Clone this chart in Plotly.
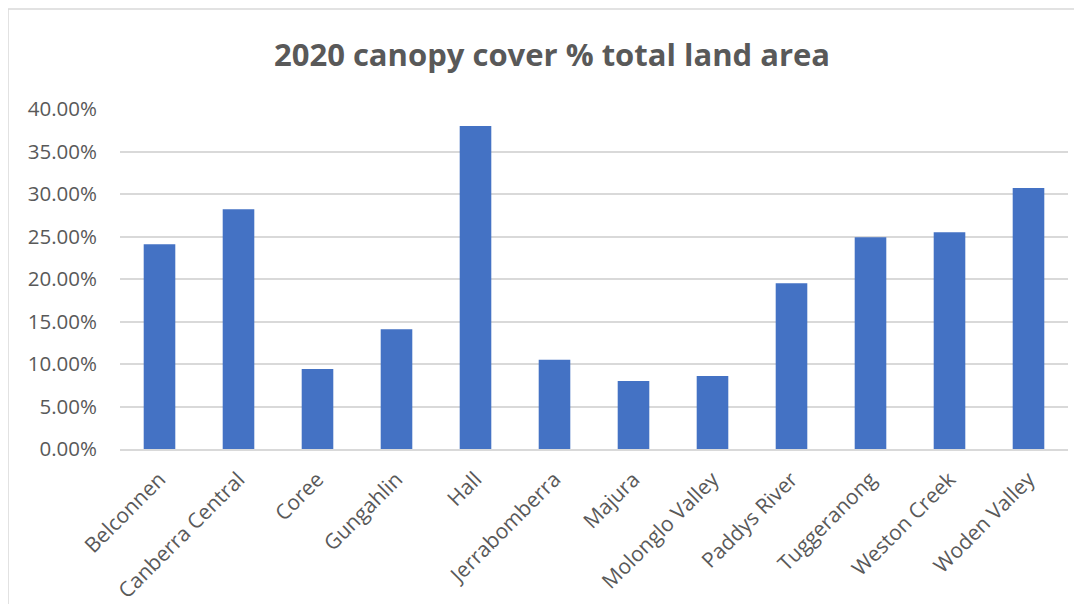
import plotly.graph_objects as go

categories = ["Belconnen", "Canberra Central", "Coree", "Gungahlin", "Hall",
              "Jerrabomberra", "Majura", "Molonglo Valley", "Paddys River",
              "Tuggeranong", "Weston Creek", "Woden Valley"]
canopy_pct = [0.241, 0.282, 0.094, 0.141, 0.380, 0.105, 0.080, 0.086, 0.195,
              0.249, 0.255, 0.307]
y_ticks = [0.0, 0.05, 0.10, 0.15, 0.20, 0.25, 0.30, 0.35, 0.40]

OFF = 8  # page body margin
W, H = 1082 - 2 * OFF, 612 - 2 * OFF
# desired page coords of plot area: left 120, right 1068, top 109, bottom 449
L = 120 - OFF
T = 109 - OFF
R = W - (1068 - OFF)
B = H - (449 - OFF)
pw, ph = W - L - R, H - T - B

def px_x(p):
    return (p - OFF - L) / pw

def px_y(p):
    return (H - B - (p - OFF)) / ph

fig = go.Figure(go.Bar(x=categories, y=canopy_pct, marker_color="#4472C4",
                       marker_line_width=0))

fig.update_layout(
    width=W, height=H,
    margin=dict(l=L, r=R, t=T, b=B, autoexpand=False),
    paper_bgcolor="white", plot_bgcolor="white",
    bargap=0.6,
    showlegend=False,
    font=dict(family="Open Sans", color="#595959"),
    title=dict(text="<b>2020 canopy cover % total land area</b>",
               x=(552 - OFF) / W, xanchor="center", xref="container",
               y=1 - (55 - OFF) / H, yanchor="middle",
               font=dict(family="Open Sans", size=31, color="#595959")),
    shapes=[dict(type="rect", xref="paper", yref="paper",
                 x0=px_x(8), x1=px_x(1095), y0=px_y(9), y1=px_y(625),
                 line=dict(color="#D9D9D9", width=1.5), layer="below")],
)
fig.update_yaxes(range=[0, 0.40], tickvals=y_ticks, tickformat=".2%",
                 showgrid=True, gridcolor="#D9D9D9", gridwidth=1.5,
                 zeroline=False, showline=False, ticks="", automargin=False,
                 tickfont=dict(size=20.5, color="#595959"),
                 ticklabelstandoff=22)
fig.update_xaxes(tickangle=-45, showline=True, linecolor="#D9D9D9", linewidth=1.5,
                 ticks="", tickfont=dict(size=21, color="#595959"), automargin=False,
                 ticklabelstandoff=8, showgrid=False)

fig.write_html("out.html")
